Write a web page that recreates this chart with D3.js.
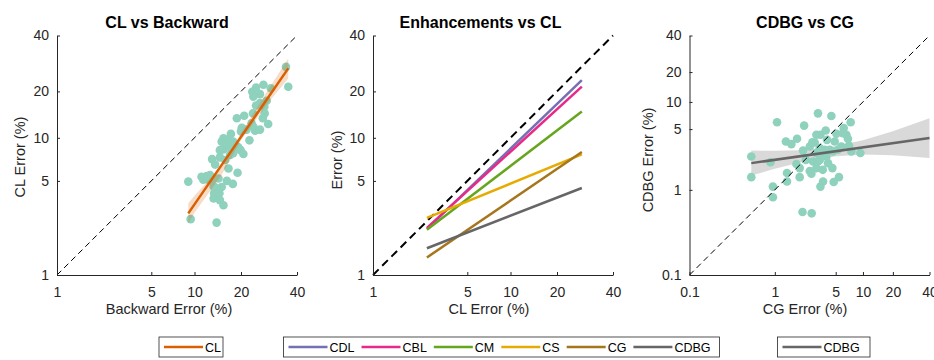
<!DOCTYPE html>
<html><head><meta charset="utf-8">
<script src="https://cdn.jsdelivr.net/npm/d3@7"></script>
<style>body{margin:0;background:#fff} text{font-family:"Liberation Sans",Arial,Helvetica,sans-serif}</style>
</head><body><svg id="c" width="934" height="360"></svg>
<script>
// ---------- data ----------
const ticksA = [1, 5, 10, 20, 40];
const ticksB = [0.1, 1, 5, 10, 20, 40];
const titles = ["CL vs Backward", "Enhancements vs CL", "CDBG vs CG"];
const xLabels = ["Backward Error (%)", "CL Error (%)", "CG Error (%)"];
const yLabels = ["CL Error (%)", "Error (%)", "CDBG Error (%)"];

// Panel 1: CL error vs Backward error
const backwardErr = [34.9,35.9,24.1,26.4,23.0,25.3,23.3,28.9,27.5,25.3,24.1,26.7,26.8,23.2,20.8,18.8,26.2,22.8,28.0,20.2,21.4,23.8,20.0,17.2,22.2,15.4,16.2,15.0,17.8,16.6,18.3,19.2,14.6,15.4,17.4,19.9,20.6,17.0,14.6,15.8,13.0,13.6,16.6,19.0,12.6,12.0,11.4,9.05,13.1,14.3,16.2,17.7,13.9,15.0,13.4,14.5,13.3,14.6,15.4,9.4,13.9,11.1,12.3,13.3,16.8,17.8,23.3,25.3];
const clErr = [27.1,21.2,21.0,21.7,19.9,19.2,18.5,20.8,17.4,16.8,16.2,15.9,14.4,14.4,13.9,13.4,13.4,12.4,12.3,11.6,11.3,11.1,11.0,10.6,9.6,9.9,9.7,9.4,9.4,8.9,8.9,8.6,8.2,8.3,8.15,8.2,7.7,7.6,7.3,7.0,7.1,6.5,6.1,5.7,5.5,5.4,5.1,4.94,5.1,5.2,5.0,4.75,4.4,4.5,4.05,4.05,3.7,3.6,3.3,2.6,2.45,5.35,5.1,4.55,8.7,7.8,11.8,11.3];
const clFitX = [9.05, 35.9];
const clFitY = [2.87, 26.6];
const clBandX = [9.05, 10, 15, 20, 28, 35.9];
const clBandLow = [2.42, 2.90, 5.51, 9.61, 16.9, 23.5];
const clBandHigh = [3.41, 3.88, 6.37, 10.7, 20.4, 30.1];

// Panel 2: fitted lines of enhancements vs CL error
const enhNames = ["CDL", "CBL", "CM", "CS", "CG", "CDBG"];
const enhX = [2.51, 27.2];
const enhCDL = [2.20, 23.0];
const enhCBL = [2.24, 21.2];
const enhCM = [2.17, 14.8];
const enhCS = [2.66, 7.66];
const enhCG = [1.35, 7.95];
const enhCDBG = [1.58, 4.43];

// Panel 3: CDBG error vs CG error
const cgErr = [0.53,0.53,0.89,1.06,0.95,0.95,1.38,1.38,1.34,1.55,1.80,1.77,1.93,1.93,2.11,2.17,2.08,2.65,2.52,2.63,3.0,2.75,2.87,3.0,3.34,3.13,3.28,3.58,3.84,3.97,4.46,4.08,4.58,4.87,5.09,5.43,4.74,3.58,3.34,3.13,6.13,7.32,6.56,6.83,7.01,5.78,7.45,9.36,4.27,5.3,3.91,3.74,2.52,4.66,6.01,2.70,3.0,3.28,3.55,2.27];
const cdbgErr = [2.42,1.40,2.08,5.96,1.09,0.82,1.56,1.25,3.6,3.36,3.87,1.98,1.78,1.40,2.83,5.47,0.55,0.53,1.65,1.53,1.78,2.12,3.5,4.3,4.3,7.47,3.02,2.65,4.82,3.76,6.98,2.03,1.78,3.6,4.42,1.40,1.23,1.25,1.09,2.12,5.13,5.96,4.3,3.87,3.24,3.15,2.76,2.65,2.89,2.89,2.42,2.89,3.15,2.76,4.49,3.53,2.65,2.21,1.70,2.21];
const cdbgFitX = [0.53, 40];
const cdbgFitY = [2.03, 3.94];
const cdbgBandX = [0.53, 1, 1.93, 5, 10, 20, 40];
const cdbgBandLow = [1.46, 1.75, 2.07, 2.43, 2.56, 2.50, 2.32];
const cdbgBandHigh = [2.83, 2.81, 2.85, 3.17, 3.71, 4.73, 6.59];

// ---------- styles / layout ----------
const colors = {CL:"#d95f02", CDL:"#7570b3", CBL:"#e7298a", CM:"#66a61e", CS:"#e6ab02", CG:"#a6761d", CDBG:"#666666"};
const dotColor = "#8ed1bc";
const axisColor = "#262626";
const plotTop = 35.5, plotBottom = 275, plotSize = 240;
const lefts = [57, 373, 689.5];
const fracA = [0, 94.3/240, 137.5/240, 184/240, 1];
const fracB = [0, 85.5/240.5, 146.5/240.5, 173.8/240.5, 203.8/240.5, 1];
const titleX = [167, 480.5, 805];
const xLabelX = [169, 489, 805];
const yLabelPos = [[20,157],[336.5,160],[648,160]];

const svg = d3.select("#c");

function scales(i, ticks, fr) {
  const x0 = lefts[i];
  const x = d3.scaleLog().domain(ticks).range(fr.map(f => x0 + f*plotSize));
  const y = d3.scaleLog().domain(ticks).range(fr.map(f => plotBottom - f*(plotBottom-plotTop)));
  return {x, y};
}

function drawAxes(i, s, ticks) {
  const g = svg.append("g");
  const fmt = d3.format("");
  g.append("g").attr("transform", `translate(0,${plotBottom})`)
    .call(d3.axisBottom(s.x).tickValues(ticks).tickFormat(fmt).tickSize(-3).tickSizeOuter(0).tickPadding(12.5));
  g.append("g").attr("transform", `translate(${lefts[i]},0)`)
    .call(d3.axisLeft(s.y).tickValues(ticks).tickFormat(fmt).tickSize(-3).tickSizeOuter(0).tickPadding(8));
  g.selectAll(".domain").attr("stroke", axisColor).attr("stroke-width", 1);
  g.selectAll(".tick line").attr("stroke", axisColor);
  g.selectAll(".tick text").attr("fill", axisColor).attr("font-size", 14)
    .attr("font-family", '"Liberation Sans",Arial,sans-serif');
  svg.append("text").attr("x", titleX[i]).attr("y", 28).attr("text-anchor","middle")
    .attr("font-size", 16).attr("font-weight","bold").attr("fill","#000").text(titles[i]);
  svg.append("text").attr("x", xLabelX[i]).attr("y", 309).attr("dy","0.35em").attr("text-anchor","middle")
    .attr("font-size", 14.5).attr("fill", axisColor).text(xLabels[i]);
  svg.append("text").attr("transform", `translate(${yLabelPos[i][0]},${yLabelPos[i][1]}) rotate(-90)`)
    .attr("dy","0.35em").attr("text-anchor","middle")
    .attr("font-size", 14.5).attr("fill", axisColor).text(yLabels[i]);
}

function diag(s, lo, hi, w, dash) {
  svg.append("line").attr("x1", s.x(lo)).attr("y1", s.y(lo)).attr("x2", s.x(hi)).attr("y2", s.y(hi))
    .attr("stroke","#000").attr("stroke-width", w).attr("stroke-dasharray", dash);
}

function band(s, xs, lo, hi, color, op) {
  const pts = xs.map((d,k) => [d, lo[k], hi[k]]);
  svg.append("path").datum(pts)
    .attr("d", d3.area().x(d => s.x(d[0])).y0(d => s.y(d[1])).y1(d => s.y(d[2])))
    .attr("fill", color).attr("fill-opacity", op).attr("stroke","none");
}

function fitLine(s, xs, ys, color, w) {
  svg.append("path").datum(xs.map((d,k)=>[d, ys[k]]))
    .attr("d", d3.line().x(d => s.x(d[0])).y(d => s.y(d[1])))
    .attr("fill","none").attr("stroke", color).attr("stroke-width", w);
}

function dots(s, xs, ys) {
  svg.append("g").selectAll("circle").data(xs.map((d,k)=>[d, ys[k]])).join("circle")
    .attr("cx", d => s.x(d[0])).attr("cy", d => s.y(d[1])).attr("r", 4.3).attr("fill", dotColor);
}

// Panel 1
const s1 = scales(0, ticksA, fracA);
dots(s1, backwardErr, clErr);
band(s1, clBandX, clBandLow, clBandHigh, colors.CL, 0.22);
diag(s1, 1, 40, 1, "6,4");
fitLine(s1, clFitX, clFitY, colors.CL, 2.5);
drawAxes(0, s1, ticksA);

// Panel 2
const s2 = scales(1, ticksA, fracA);
const enhVals = [enhCDL, enhCBL, enhCM, enhCS, enhCG, enhCDBG];
diag(s2, 1, 40, 2, "8,5");
enhNames.forEach((n,k) => fitLine(s2, enhX, enhVals[k], colors[n], 2.5));
drawAxes(1, s2, ticksA);

// Panel 3
const s3 = scales(2, ticksB, fracB);
band(s3, cdbgBandX, cdbgBandLow, cdbgBandHigh, colors.CDBG, 0.25);
dots(s3, cgErr, cdbgErr);
diag(s3, 0.1, 40, 1, "6,4");
fitLine(s3, cdbgFitX, cdbgFitY, colors.CDBG, 2.5);
drawAxes(2, s3, ticksB);

// ---------- legends ----------
function legend(names, x0, yTop, w) {
  const g = svg.append("g");
  const box = g.append("rect").attr("x", x0).attr("y", yTop).attr("height", 20)
    .attr("fill","#fff").attr("stroke", axisColor).attr("stroke-width", 0.8);
  let cx = x0 + 5;
  const cy = yTop + 10;
  names.forEach(n => {
    g.append("line").attr("x1", cx).attr("x2", cx + 39).attr("y1", cy).attr("y2", cy)
      .attr("stroke", colors[n]).attr("stroke-width", 2.5);
    const t = g.append("text").attr("x", cx + 41).attr("y", cy).attr("dy","0.36em")
      .attr("font-size", 12.5).attr("fill","#000").text(n);
    cx += 41 + t.node().getComputedTextLength() + 7;
  });
  box.attr("width", w);
}
legend(["CL"], 159, 337, 64);
legend(enhNames, 283.5, 337, 436);
legend(["CDBG"], 777.5, 337, 92.5);
</script></body></html>
